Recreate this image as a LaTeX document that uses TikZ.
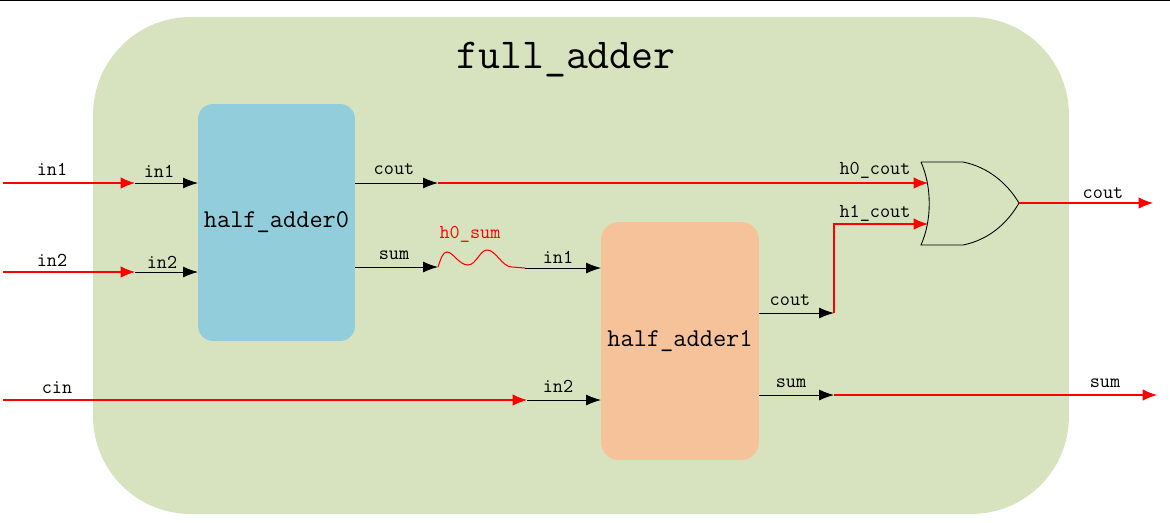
\documentclass[tikz,border=0pt]{standalone}
\usepackage{xcolor}
\usetikzlibrary{arrows.meta}
\definecolor{outerfill}{HTML}{D7E3BF}
\definecolor{bluefill}{HTML}{92CDDC}
\definecolor{orangefill}{HTML}{F6C299}
\tikzset{
  module/.style={inner sep=0pt,font=\ttfamily\fontsize{14.6}{16}\selectfont},
  lab/.style={inner sep=0pt,font=\ttfamily\fontsize{11.2}{12}\selectfont},
  redwire/.style={draw=red,line width=.6pt,-{Latex[length=.29cm,width=.23cm]}},
  redline/.style={draw=red,line width=.6pt},
  blackwire/.style={draw=black,line width=.5pt,-{Latex[length=.3cm,width=.22cm]}}
}
\begin{document}
\begin{tikzpicture}[x=.02cm,y=-.02cm]
    \useasboundingbox (0,0) rectangle (1170,522);
    \draw [line width=1pt] (0,0) -- (1170,0);

    % blocks
    \node (top) at (581,265.5) [fill=outerfill,rounded corners=1.95cm,minimum width=19.52cm,minimum height=9.94cm,inner sep=0pt] {};
    \node (title) at (566,60) [inner sep=0pt,font=\ttfamily\fontsize{24.3}{26}\selectfont] {full\_adder};
    \node (ha0) at (276.5,222.5) [module,fill=bluefill,rounded corners=.3cm,minimum width=3.14cm,minimum height=4.74cm] {half\_adder0};
    \node (ha1) at (680,341) [module,fill=orangefill,rounded corners=.36cm,minimum width=3.16cm,minimum height=4.76cm] {half\_adder1};

    % or gate
    \coordinate (g1) at (921,162);
    \coordinate (g2) at (921,245);
    \coordinate (gout) at (1019,203);
    \draw [line width=.5pt] (g1) -- (963,162) .. controls (988,167) and (1007,183) .. (gout)
      .. controls (1007,224) and (988,240) .. (963,245) -- (g2)
      .. controls (932,220) and (932,187) .. (g1);

    % wire ends
    \coordinate (i1) at (3,183);
    \coordinate (i1m) at (135,183);
    \coordinate (i1e) at (198,183);
    \coordinate (i2) at (3,272);
    \coordinate (i2m) at (135,272);
    \coordinate (i2e) at (198,272);
    \coordinate (ci) at (3,400);
    \coordinate (cim) at (527,400);
    \coordinate (cie) at (601,400);
    \coordinate (c0s) at (355,183);
    \coordinate (c0m) at (438,183);
    \coordinate (c0e) at (928,183);
    \coordinate (s0s) at (355,267);
    \coordinate (s0m) at (438,267);
    \coordinate (s0n) at (525,268);
    \coordinate (s0e) at (601,268);
    \coordinate (c1s) at (759,313);
    \coordinate (c1m) at (834,313);
    \coordinate (c1u) at (834,224);
    \coordinate (c1e) at (928,224);
    \coordinate (s1s) at (759,395);
    \coordinate (s1m) at (834,395);
    \coordinate (s1e) at (1157,395);
    \coordinate (oute) at (1153,203);

    \draw [redwire] (i1) -- (i1m);
    \draw [blackwire] (i1m) -- (i1e);
    \draw [redwire] (i2) -- (i2m);
    \draw [blackwire] (i2m) -- (i2e);
    \draw [redwire] (ci) -- (cim);
    \draw [blackwire] (cim) -- (cie);
    \draw [blackwire] (c0s) -- (c0m);
    \draw [redwire] (c0m) -- (c0e);
    \draw [blackwire] (s0s) -- (s0m);
    \draw [redline] (s0m) .. controls (441,258) and (443,252) .. (447,252)
      .. controls (453,252) and (459,265) .. (468,265)
      .. controls (476,265) and (480,250) .. (487,250)
      .. controls (496,250) and (502,267) .. (512,267) -- (s0n);
    \draw [blackwire] (s0n) -- (s0e);
    \draw [blackwire] (c1s) -- (c1m);
    \draw [redwire] (c1m) -- (c1u) -- (c1e);
    \draw [blackwire] (s1s) -- (s1m);
    \draw [redwire] (s1m) -- (s1e);
    \draw [redwire] (gout) -- (oute);

    % labels
    \node (l1) at (52,169) [lab] {in1};
    \node (l2) at (159,171) [lab] {in1};
    \node (l3) at (52,260) [lab] {in2};
    \node (l4) at (162,262) [lab] {in2};
    \node (l5) at (57,388) [lab] {cin};
    \node (l6) at (558,386) [lab] {in2};
    \node (l7) at (394,169) [lab] {cout};
    \node (l8) at (394,255) [lab] {sum};
    \node (l9) at (470,234) [lab,text=red] {h0\_sum};
    \node (l10) at (558,257) [lab] {in1};
    \node (l11) at (875,170) [lab] {h0\_cout};
    \node (l12) at (875,213) [lab] {h1\_cout};
    \node (l13) at (790,300) [lab] {cout};
    \node (l14) at (791,383) [lab] {sum};
    \node (l15) at (1103,193) [lab] {cout};
    \node (l16) at (1105,383) [lab] {sum};
\end{tikzpicture}
\end{document}
